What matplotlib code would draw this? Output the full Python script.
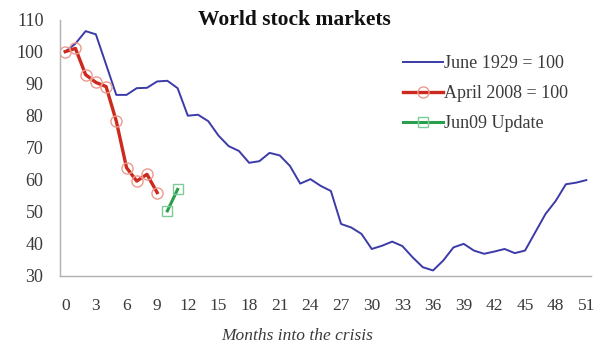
"""
World stock markets: 1929 vs 2008
"""

import matplotlib.pyplot as plt

# Months into the crisis and index levels (start month = 100)
months_1929 = list(range(0, 52))
june_1929 = [100, 102.5, 106.4, 105.4, 96, 86.5, 86.5, 88.6, 88.7, 90.7,
             90.9, 88.6, 80, 80.3, 78.3, 73.8, 70.5, 69, 65.3, 65.8,
             68.4, 67.6, 64.3, 58.8, 60.2, 58.1, 56.5, 46.2, 45.1, 43.1,
             38.4, 39.4, 40.7, 39.3, 35.8, 32.7, 31.7, 34.8, 38.9, 40,
             37.9, 36.9, 37.6, 38.4, 37.1, 37.9, 43.6, 49.3, 53.4, 58.6,
             59.1, 59.9]

months_2008 = [0, 1, 2, 3, 4, 5, 6, 7, 8, 9]
april_2008 = [100, 101, 92.8, 90.4, 89.1, 78.3, 63.8, 59.6, 61.7, 56]

months_update = [10, 11]
jun09_update = [50.3, 57]

xticks = list(range(0, 52, 3))
yticks = list(range(30, 111, 10))

plt.rcParams['font.family'] = ['Liberation Serif', 'DejaVu Serif']

fig = plt.figure(figsize=(5.95, 3.44), dpi=100)
ax = fig.add_axes([0.101, 0.198, 0.893, 0.745])

ax.plot(months_1929, june_1929, color='#3b3ba8', linewidth=1.4,
        label='June 1929 = 100')
ax.plot(months_2008, april_2008, color='#cc2a1e', linewidth=2.4,
        marker='o', markersize=8, markerfacecolor='none',
        markeredgecolor='#eb9a90', markeredgewidth=1.0,
        label='April 2008 = 100')
ax.plot(months_update, jun09_update, color='#2a9e4a', linewidth=2.2,
        marker='s', markersize=6.5, markerfacecolor='none',
        markeredgecolor='#7ccc98', markeredgewidth=1.0,
        label='Jun09 Update')

ax.set_xlim(-0.5, 51.5)
ax.set_ylim(30, 110)
ax.set_xticks(xticks)
ax.set_yticks(yticks)
ax.tick_params(length=0, labelsize=13, labelcolor='#3a3a3a')
ax.tick_params(axis='x', pad=16, labelsize=12.5)
ax.tick_params(axis='y', pad=12)

for side in ['top', 'right']:
    ax.spines[side].set_visible(False)
for side in ['left', 'bottom']:
    ax.spines[side].set_color('#b0b0b0')
    ax.spines[side].set_linewidth(1.0)

fig.text(0.495, 0.942, 'World stock markets', ha='center', va='center',
         fontsize=15.5, fontweight='bold', color='#111111')
fig.text(0.50, 0.022, 'Months into the crisis', ha='center', va='center',
         fontsize=12.5, style='italic', color='#3a3a3a')

leg = ax.legend(loc='upper left', bbox_to_anchor=(0.662, 0.865),
                bbox_transform=fig.transFigure, frameon=False,
                fontsize=13, handlelength=2.2, handletextpad=0.1,
                labelspacing=0.72, borderpad=0, labelcolor='#3a3a3a')

plt.savefig('out.png', dpi=100)
